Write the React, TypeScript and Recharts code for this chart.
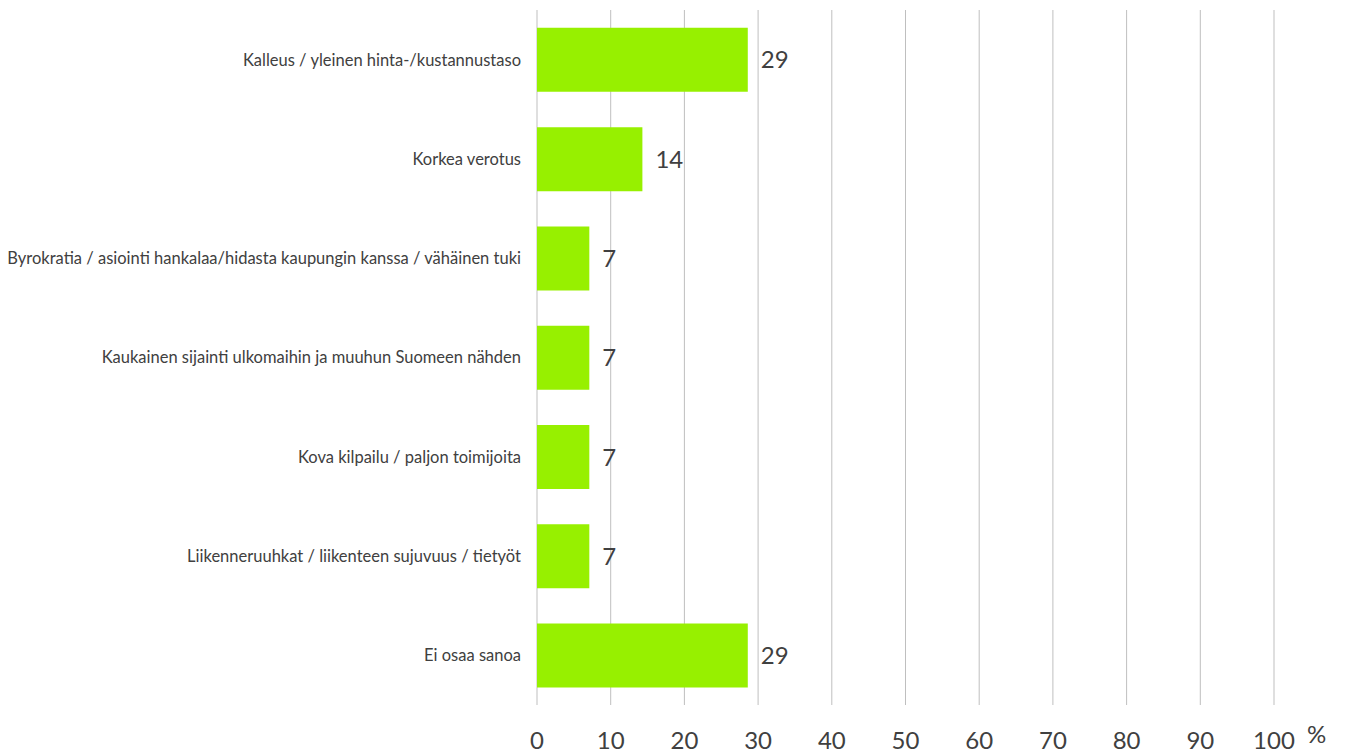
import React from "react";
import {
  BarChart,
  Bar,
  XAxis,
  YAxis,
  CartesianGrid,
  LabelList,
  Label,
} from "recharts";

const categories = [
  "Kalleus / yleinen hinta-/kustannustaso",
  "Korkea verotus",
  "Byrokratia / asiointi hankalaa/hidasta kaupungin kanssa / vähäinen tuki",
  "Kaukainen sijainti ulkomaihin ja muuhun Suomeen nähden",
  "Kova kilpailu / paljon toimijoita",
  "Liikenneruuhkat / liikenteen sujuvuus / tietyöt",
  "Ei osaa sanoa",
];

const shares = [28.6, 14.3, 7.1, 7.1, 7.1, 7.1, 28.6];

const xTicks = [0, 10, 20, 30, 40, 50, 60, 70, 80, 90, 100];

const data = categories.map((name, i) => ({ name, value: shares[i] }));

const textColor = "#404040";

const App: React.FC = () => {
  return (
    <div style={{ position: "absolute", left: 0, top: 0, fontFamily: "Lato" }}>
      <BarChart
        width={1346}
        height={753}
        data={data}
        layout="vertical"
        margin={{ top: 10, right: 72, bottom: 0, left: 0 }}
        barCategoryGap="18%"
      >
        <CartesianGrid horizontal={false} stroke="#bfbfbf" />
        <XAxis
          type="number"
          domain={[0, 100]}
          ticks={xTicks}
          interval={0}
          axisLine={false}
          tickLine={false}
          tickSize={0}
          tickMargin={27}
          height={48}
          tick={{ fontSize: 24, fill: textColor, fontFamily: "Lato" }}
        >
          <Label
            value="%"
            position="right"
            offset={33}
            dy={5}
            style={{ fontSize: 24, fill: textColor, fontFamily: "Lato" }}
          />
        </XAxis>
        <YAxis
          type="category"
          dataKey="name"
          width={537}
          axisLine={false}
          tickLine={false}
          tickSize={0}
          tickMargin={16}
          interval={0}
          tick={{ fontSize: 16.5, fill: textColor, fontFamily: "Lato" }}
        />
        <Bar dataKey="value" fill="#97f000" isAnimationActive={false}>
          <LabelList
            dataKey="value"
            position="right"
            offset={13}
            formatter={(v: number) => Math.round(v)}
            style={{ fontSize: 24, fill: textColor, fontFamily: "Lato" }}
          />
        </Bar>
      </BarChart>
    </div>
  );
};

export default App;
